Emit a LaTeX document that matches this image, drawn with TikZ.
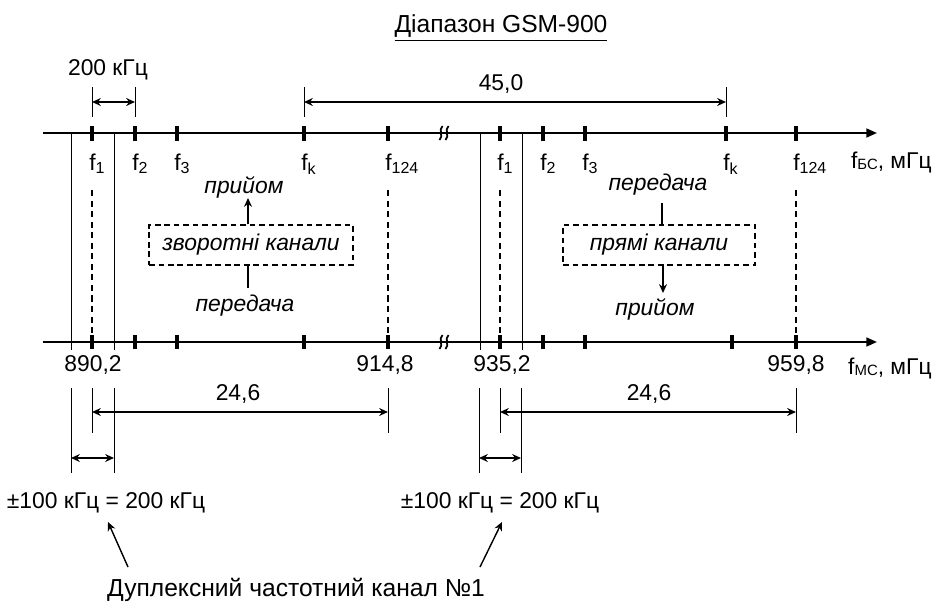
\documentclass[tikz,border=0pt]{standalone}
\usepackage{fontspec}
\setmainfont{Liberation Sans}
\usetikzlibrary{arrows.meta, positioning}

\begin{document}
\begin{tikzpicture}[x=0.02cm, y=-0.02cm,
  lbl/.style={font=\fontsize{13}{15}\selectfont, inner sep=0pt},
  biglbl/.style={font=\fontsize{14}{16}\selectfont, inner sep=0pt},
  itlbl/.style={font=\fontsize{13}{15}\selectfont\itshape, inner sep=2pt},
  chbox/.style={rectangle, draw, dash pattern=on 3.2pt off 2.2pt, line width=0.7pt,
              minimum height=0.8cm, font=\fontsize{13}{15}\selectfont\itshape},
  axis/.style={line width=1.1pt, -{Triangle[length=6pt, width=5pt]}},
  tick/.style={line width=1.8pt},
  thin/.style={line width=0.5pt},
  guide/.style={line width=0.6pt, dash pattern=on 3.5pt off 2.5pt},
  dim/.style={{Stealth[length=5pt, width=4.5pt]}-{Stealth[length=5pt, width=4.5pt]}, line width=0.9pt},
  arrow/.style={-{Stealth[length=5pt, width=4.5pt]}, line width=0.8pt},
  brk/.style={line width=1pt}
]
\useasboundingbox (0,0) rectangle (934,605);

% Title
\node[biglbl] (title) at (501,28) {\underline{Діапазон GSM-900}};

% Top axis (BS)
\coordinate (bsA) at (43,133);
\coordinate (bsB) at (877,133);
\draw[axis] (bsA) -- (bsB);
\foreach \x in {92,135,177,304,388,500,543,585,726,796}
  \draw[tick] (\x,126) -- (\x,141);
\foreach \x in {441,447}
  \draw[brk] (\x-1.5,140) .. controls (\x+3,136) and (\x-3,130) .. (\x+1.5,126);

% Bottom axis (MS)
\coordinate (msA) at (43,342);
\coordinate (msB) at (877,342);
\draw[axis] (msA) -- (msB);
\foreach \x in {92,135,177,304,388,500,543,585,732,796}
  \draw[tick] (\x,335) -- (\x,349);
\foreach \x in {441,447}
  \draw[brk] (\x-1.5,349) .. controls (\x+3,345) and (\x-3,339) .. (\x+1.5,335);

% Channel bounds
\foreach \x in {71,114,480,522}
  \draw[thin] (\x,133) -- (\x,350);
\foreach \x in {92,388,500,796}
  \draw[guide] (\x,190) -- (\x,335);

% Frequency labels
\foreach \x/\s/\n in {92/1/fa, 135/2/fb, 177/3/fc, 304/k/fd, 388/124/fe,
                      500/1/fg, 543/2/fh, 585/3/fi, 726/k/fj, 796/124/fl}
  \node[lbl, anchor=base west] (\n) at (\x-3,170) {f\textsubscript{\s}};
\node[lbl, anchor=base east] (fbs) at (932,168)
  {f{\fontsize{8.5}{9}\selectfont\raisebox{-0.25ex}{БС}}, мГц};
\node[lbl, anchor=base east] (fms) at (932,374)
  {f{\fontsize{8.5}{9}\selectfont\raisebox{-0.25ex}{МС}}, мГц};

\node[lbl] (v1) at (93,365) {890,2};
\node[lbl] (v2) at (385,365) {914,8};
\node[lbl] (v3) at (502,365) {935,2};
\node[lbl] (v4) at (796,365) {959,8};

% 200 kHz spacing
\draw[thin] (92,87) -- (92,117);
\draw[thin] (135,87) -- (135,117);
\draw[dim] (92,102) -- (135,102);
\node[lbl] (sp200) at (108,70) {200 кГц};

% Duplex spacing
\draw[thin] (304,87) -- (304,117);
\draw[thin] (726,87) -- (726,117);
\draw[dim] (304,102) -- (726,102);
\node[lbl] (sp45) at (501,84) {45,0};

% Reverse channels
\node[chbox, minimum width=4.08cm] (zvor) at (251,245) {зворотні канали};
\node[itlbl] (rx1) at (244,187) {прийом};
\node[itlbl] (tx1) at (245,306) {передача};
\draw[arrow] (zvor.north -| 248,0) -- (248,198);
\draw[thin, line width=0.8pt] (zvor.south -| 248,0) -- (248,288);

% Forward channels
\node[chbox, minimum width=3.84cm] (pryam) at (659,245) {прямі канали};
\node[itlbl] (tx2) at (658,185) {передача};
\node[itlbl] (rx2) at (655,309) {прийом};
\draw[thin, line width=0.8pt] (662,203) -- (pryam.north -| 662,0);
\draw[arrow] (pryam.south -| 663,0) -- (663,293);

% Bottom dimensions, left
\foreach \x in {71,114}
  \draw[thin] (\x,388) -- (\x,473);
\foreach \x in {92,388}
  \draw[thin] (\x,388) -- (\x,433);
\draw[dim] (92,412) -- (388,412);
\node[lbl] (w1) at (238,394) {24,6};
\draw[dim] (71,458) -- (114,458);
\node[lbl] (pm1) at (106,503) {±100 кГц = 200 кГц};

% Bottom dimensions, right
\foreach \x in {479,521}
  \draw[thin] (\x,388) -- (\x,473);
\foreach \x in {500,796}
  \draw[thin] (\x,388) -- (\x,433);
\draw[dim] (500,412) -- (796,412);
\node[lbl] (w2) at (649,394) {24,6};
\draw[dim] (479,458) -- (521,458);
\node[lbl] (pm2) at (500,503) {±100 кГц = 200 кГц};

% Duplex channel
\node[biglbl] (duplex) at (296,590) {Дуплексний частотний канал №1};
\coordinate (dL) at (128,567);
\coordinate (dR) at (480,567);
\draw[arrow] (dL) -- (108,522);
\draw[arrow] (dR) -- (502,522);

\end{tikzpicture}
\end{document}
